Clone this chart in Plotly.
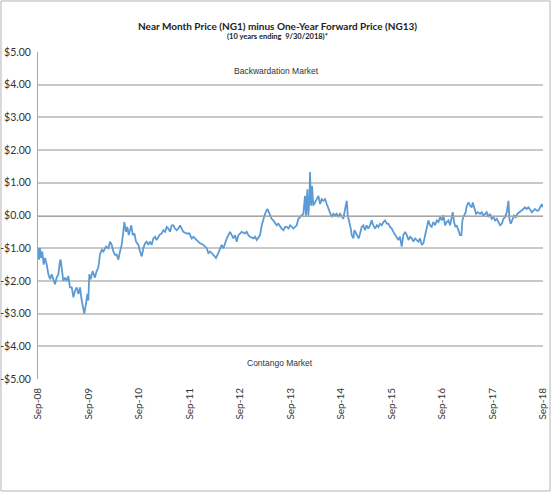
import pandas as pd
import plotly.graph_objects as go

# days after 9/30/2008 and NG1 - NG13 spread ($/MMBtu)
START = "2008-09-30"
DAYS = [
    2, 7, 14, 22, 31, 41, 51, 63, 75, 87, 99, 111, 123, 135, 147, 159, 164, 171,
    183, 195, 207, 219, 231, 244, 256, 268, 280, 292, 304, 316, 328, 335, 347,
    357, 364, 371, 381, 395, 412, 424, 436, 448, 461, 473, 492, 509, 521, 533,
    545, 557, 569, 581, 593, 605, 617, 624, 637, 646, 656, 665, 675, 685, 697,
    709, 726, 738, 750, 762, 774, 786, 798, 810, 822, 834, 846, 858, 878, 894,
    907, 919, 931, 943, 955, 967, 979, 991, 1003, 1015, 1027, 1039, 1051, 1075,
    1095, 1111, 1124, 1148, 1172, 1196, 1220, 1232, 1244, 1268, 1287, 1304,
    1316, 1328, 1341, 1353, 1365, 1389, 1401, 1413, 1425, 1437, 1449, 1461,
    1473, 1497, 1509, 1521, 1533, 1558, 1570, 1582, 1594, 1606,
    1618, 1630, 1642, 1659, 1673, 1690, 1702, 1714, 1726, 1738, 1750, 1762,
    1775, 1787, 1799, 1811, 1823, 1835, 1847, 1859, 1871, 1883, 1895, 1907,
    1919, 1931, 1938, 1948, 1955, 1963, 1967, 1975, 1982, 1991, 2004, 2016,
    2028, 2040, 2052, 2064, 2076, 2088, 2100, 2112, 2124, 2136, 2148, 2160,
    2172, 2184, 2196, 2208, 2221, 2233, 2240, 2249, 2262, 2269, 2281, 2288,
    2300, 2310, 2319, 2329, 2341, 2353, 2365, 2377, 2389, 2401, 2413, 2425,
    2438, 2450, 2462, 2474, 2486, 2498, 2510, 2522, 2534, 2546, 2558, 2570,
    2582, 2594, 2606, 2618, 2630, 2642, 2655, 2667, 2679, 2691, 2703, 2715,
    2727, 2739, 2751, 2763, 2775, 2787, 2799, 2811, 2823, 2835, 2847, 2859,
    2872, 2884, 2896, 2908, 2920, 2932, 2944, 2956, 2968, 2980, 2992, 2999,
    3009, 3019, 3028, 3040, 3052, 3062, 3069, 3081, 3093, 3101, 3113, 3125,
    3137, 3144, 3156, 3168, 3180, 3197, 3209, 3221, 3233, 3245, 3257, 3269,
    3281, 3293, 3306, 3318, 3330, 3342, 3354, 3366, 3378, 3390, 3402, 3409,
    3419, 3431, 3443, 3455, 3467, 3481, 3498, 3510, 3522, 3534, 3547, 3559,
    3571, 3583, 3595, 3607, 3619, 3631, 3643, 3650,
]
SPREAD = [
    -1.0, -1.35, -1.0, -1.3, -1.1, -1.5, -1.3, -1.5, -1.8, -1.95, -1.8, -1.95,
    -2.1, -1.9, -1.8, -1.4, -1.35, -1.6, -2.0, -1.9, -2.0, -1.85, -2.2, -2.2,
    -2.5, -2.3, -2.2, -2.4, -2.2, -2.6, -2.9, -3.0, -2.7, -2.4, -2.6, -1.8,
    -1.95, -1.7, -1.9, -1.7, -1.6, -1.2, -1.05, -1.1, -0.95, -1.0, -0.8, -0.9,
    -1.1, -1.2, -1.2, -1.35, -1.1, -0.9, -0.5, -0.2, -0.5, -0.35, -0.6, -0.4,
    -0.3, -0.6, -0.55, -0.8, -0.9, -1.1, -1.25, -1.0, -0.85, -0.8, -0.9, -0.8,
    -0.9, -0.7, -0.65, -0.75, -0.6, -0.55, -0.45, -0.5, -0.35, -0.4, -0.5,
    -0.3, -0.3, -0.4, -0.45, -0.4, -0.3, -0.4, -0.5, -0.55, -0.55, -0.7,
    -0.65, -0.75, -0.85, -0.9, -1.0, -1.15, -1.1, -1.2, -1.3, -1.15, -1.05,
    -0.9, -1.0, -0.85, -0.7, -0.5, -0.6, -0.7, -0.6, -0.8, -0.6, -0.55, -0.5,
    -0.55, -0.5, -0.6, -0.65, -0.7, -0.65, -0.75, -0.65, -0.6,
    -0.3, -0.1, 0.05, 0.2, 0.05, -0.1, -0.15, -0.25, -0.3, -0.25, -0.35, -0.4,
    -0.45, -0.35, -0.35, -0.4, -0.3, -0.35, -0.4, -0.35, -0.3, -0.1, -0.05,
    0.0, 0.05, 0.6, 0.0, 0.8, 0.0, 0.5, 1.33, 0.3, 0.9, 0.3, 0.4, 0.5, 0.6,
    0.35, 0.5, 0.45, 0.5, 0.35, 0.2, 0.05, -0.05, 0.05, 0.0, 0.05, -0.05, 0.05,
    -0.05, -0.1, 0.2, 0.45, 0.0, -0.15, -0.4, -0.6, -0.7, -0.45, -0.55, -0.6,
    -0.7, -0.55, -0.35, -0.3, -0.45, -0.3, -0.4, -0.3, -0.15, -0.3, -0.4,
    -0.3, -0.35, -0.25, -0.3, -0.2, -0.15, -0.25, -0.25, -0.35, -0.4, -0.5,
    -0.6, -0.7, -0.75, -0.65, -0.95, -0.6, -0.5, -0.6, -0.75, -0.65, -0.7,
    -0.8, -0.7, -0.75, -0.8, -0.7, -0.9, -0.85, -0.6, -0.3, -0.15, -0.3,
    -0.35, -0.2, -0.3, -0.15, -0.2, -0.05, -0.15, 0.0, -0.3, -0.2, -0.15,
    -0.3, 0.0, 0.1, -0.2, -0.35, -0.3, -0.45, -0.6, -0.6, -0.15, 0.0, 0.1,
    0.3, 0.4, 0.3, 0.25, 0.4, 0.2, 0.05, 0.1, 0.05, 0.1, 0.0, 0.05, 0.1,
    -0.05, 0.05, -0.1, -0.05, -0.15, -0.1, -0.2, -0.3, -0.25, -0.1, -0.05,
    0.1, 0.45, -0.1, -0.25, -0.1, 0.0, -0.05, 0.05, 0.1, 0.15, 0.2, 0.25, 0.2,
    0.25, 0.15, 0.1, 0.15, 0.2, 0.15, 0.15, 0.25, 0.35, 0.25,
]

TICK_DATES = ["2008-09-30", "2009-09-30", "2010-09-30", "2011-09-30",
              "2012-09-30", "2013-09-30", "2014-09-30", "2015-09-30",
              "2016-09-30", "2017-09-30", "2018-09-30"]
TICK_LABELS = ["Sep-08", "Sep-09", "Sep-10", "Sep-11", "Sep-12", "Sep-13",
               "Sep-14", "Sep-15", "Sep-16", "Sep-17", "Sep-18"]
Y_VALS = [5, 4, 3, 2, 1, 0, -1, -2, -3, -4, -5]
Y_LABELS = ["$5.00", "$4.00", "$3.00", "$2.00", "$1.00", "$0.00",
            "-$1.00", "-$2.00", "-$3.00", "-$4.00", "-$5.00"]

dates = pd.Timestamp(START) + pd.to_timedelta(DAYS, unit="D")

fig = go.Figure()
fig.add_trace(go.Scatter(x=dates, y=SPREAD, mode="lines",
                         line=dict(color="#5b9bd5", width=1.8),
                         showlegend=False, cliponaxis=False))
# empty trace so the axis drawn along $0 gets its tick marks
fig.add_trace(go.Scatter(x=[], y=[], xaxis="x2", showlegend=False))

fig.update_layout(
    width=553, height=493,
    margin=dict(l=38, r=10, t=52, b=114, autoexpand=False),
    paper_bgcolor="white", plot_bgcolor="white",
    font=dict(family="Lato", size=10, color="#333333"),
    xaxis=dict(
        range=[TICK_DATES[0], TICK_DATES[-1]], automargin=False,
        tickvals=TICK_DATES, ticktext=TICK_LABELS, tickangle=-90,
        showgrid=False, showline=False, zeroline=False, ticks="",
        ticklabelstandoff=6,
        tickfont=dict(family="Lato", size=10, color="#333333"),
    ),
    xaxis2=dict(
        overlaying="x", matches="x", anchor="free", position=0.5,
        automargin=False, tickvals=TICK_DATES, showticklabels=False,
        showgrid=False, zeroline=False,
        showline=True, linecolor="#a6a6a6", linewidth=1,
        ticks="outside", ticklen=4, tickcolor="#a6a6a6",
    ),
    yaxis=dict(
        range=[-5, 5], tickvals=Y_VALS, ticktext=Y_LABELS, automargin=False,
        showgrid=True, gridcolor="#c8c8c8", gridwidth=1.5,
        zeroline=False, showline=True, linecolor="#a6a6a6", linewidth=1,
        ticks="", ticklabelstandoff=4,
        tickfont=dict(family="Lato", size=10.5, color="#333333"),
    ),
)

fig.add_annotation(text="<b>Near Month Price (NG1) minus One-Year Forward Price (NG13)</b>",
                   xref="paper", yref="paper", x=0.475, y=1.104,
                   showarrow=False, font=dict(family="Lato", size=10, color="#222222"))
fig.add_annotation(text="<b>(10 years ending  9/30/2018)*</b>",
                   xref="paper", yref="paper", x=0.475, y=1.067,
                   showarrow=False, font=dict(family="Lato", size=7.5, color="#222222"))
fig.add_annotation(text="Backwardation Market", xref="paper", yref="y",
                   x=0.473, y=4.43, showarrow=False,
                   font=dict(family="Liberation Sans", size=8.5, color="#333333"))
fig.add_annotation(text="Contango Market", xref="paper", yref="y",
                   x=0.48, y=-4.5, showarrow=False,
                   font=dict(family="Liberation Sans", size=8.5, color="#333333"))

# chart area border
fig.add_shape(type="rect", xref="paper", yref="paper",
              x0=-0.0733, x1=1.0139, y0=-0.3425, y1=1.156,
              line=dict(color="#b4b4b4", width=1), layer="below")

# the page body has a default margin; drop it so the figure sits at 0,0
fig.write_html("out.html", config={"displayModeBar": False},
               post_script="document.body.style.margin='0';")
